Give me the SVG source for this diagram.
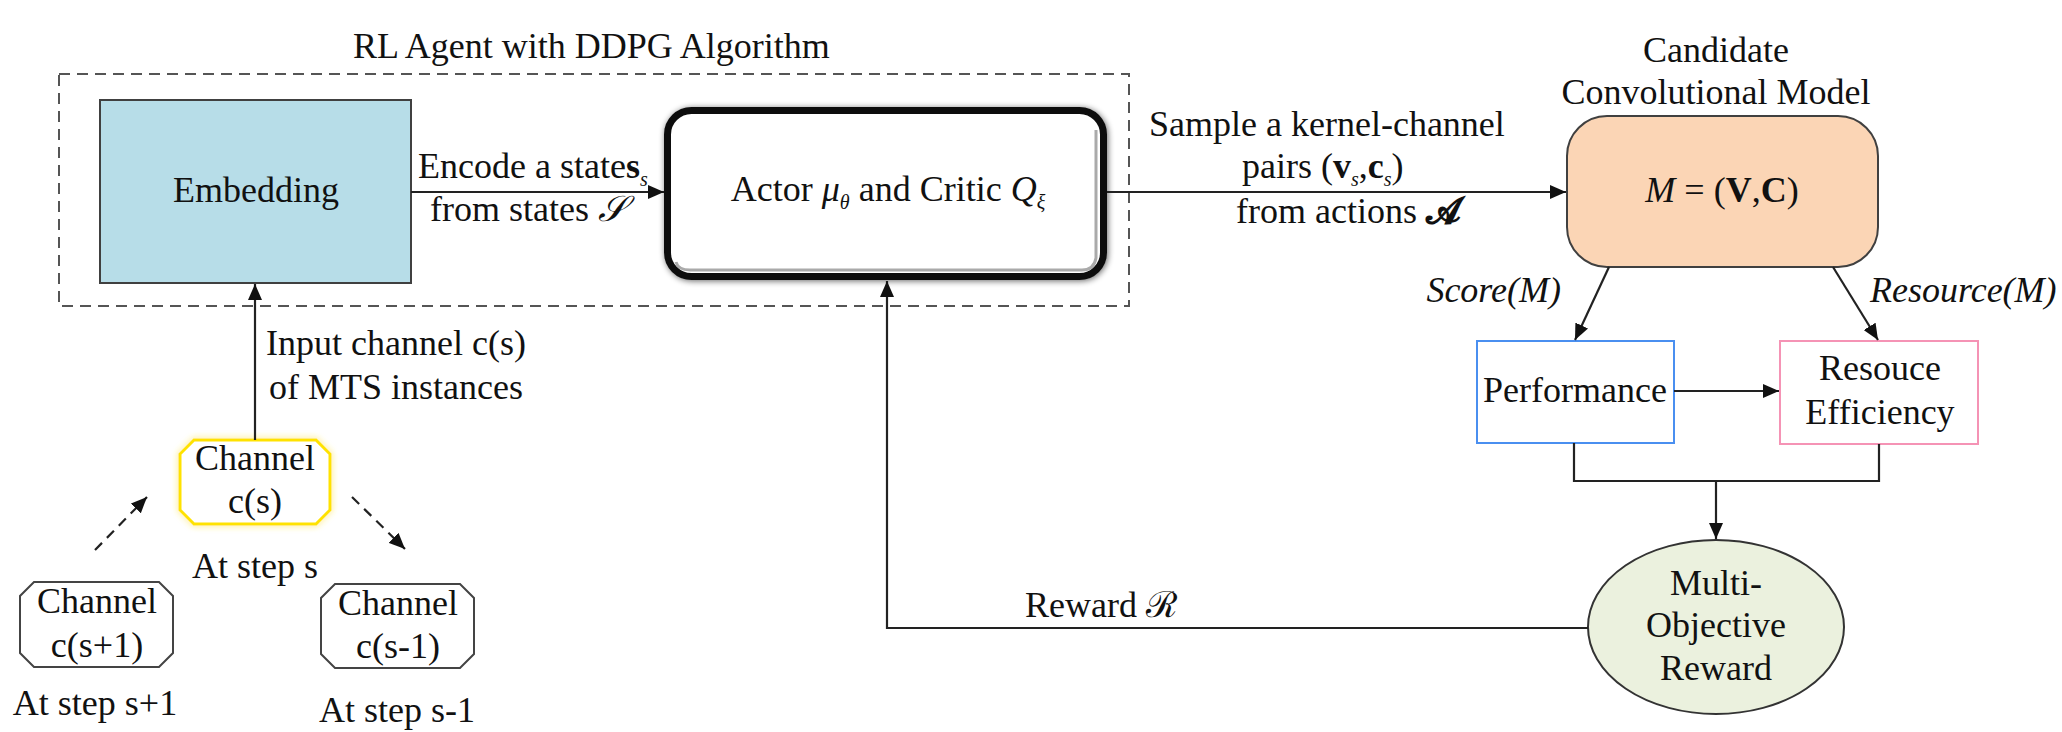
<svg xmlns="http://www.w3.org/2000/svg" width="2062" height="732" viewBox="0 0 2062 732">
<style>
text{font-family:"Liberation Serif","Times New Roman",serif;font-size:36px;fill:#111}
.it{font-style:italic}
.b{font-weight:bold}
.sub{font-size:20px;font-style:italic}
.ln{fill:none;stroke:#222;stroke-width:2.2}
.c{text-anchor:middle}
</style>
<defs>
<marker id="ah" markerUnits="userSpaceOnUse" markerWidth="18" markerHeight="14" refX="16" refY="7" orient="auto">
<path d="M0,0 L16,7 L0,14 Z" fill="#111"/>
</marker>
<filter id="sh" x="-10%" y="-20%" width="120%" height="140%">
<feGaussianBlur in="SourceAlpha" stdDeviation="3"/>
<feOffset dx="1" dy="1" result="b"/>
<feComponentTransfer><feFuncA type="linear" slope="0.6"/></feComponentTransfer>
<feMerge><feMergeNode/><feMergeNode in="SourceGraphic"/></feMerge>
</filter>
<filter id="glow" x="-20%" y="-20%" width="140%" height="140%">
<feGaussianBlur in="SourceGraphic" stdDeviation="3" result="g"/>
<feMerge><feMergeNode in="g"/><feMergeNode in="SourceGraphic"/></feMerge>
</filter>
</defs>
<rect width="2062" height="732" fill="#fff"/>

<g id="agent-frame">
<rect x="59" y="74" width="1070" height="232" fill="none" stroke="#555" stroke-width="2" stroke-dasharray="11,7"/>
<text x="353" y="58">RL Agent with DDPG Algorithm</text>
</g>

<g id="embedding">
<rect x="100" y="100" width="311" height="183" fill="#b7dde8" stroke="#404040" stroke-width="2"/>
<text class="c" x="256" y="202">Embedding</text>
</g>

<g id="actor-critic">
<rect x="667.5" y="110.5" width="436" height="166" rx="24" fill="#fff" stroke="#111" stroke-width="7" filter="url(#sh)"/>
<path d="M676,262 Q678,270 690,270 L1082,270 Q1094,270 1096,258 L1096,130" fill="none" stroke="#aaa" stroke-width="3"/>
<text class="c" x="888" y="201">Actor <tspan class="it">μ</tspan><tspan class="sub" dy="8">θ</tspan><tspan dy="-8"> and Critic </tspan><tspan class="it">Q</tspan><tspan class="sub" dy="8">ξ</tspan></text>
</g>

<g id="candidate">
<text class="c" x="1716" y="62">Candidate</text>
<text class="c" x="1716" y="104">Convolutional Model</text>
<rect x="1567" y="116" width="311" height="151" rx="40" fill="#fbd5b5" stroke="#404040" stroke-width="2"/>
<text class="c" x="1722" y="202"><tspan class="it">M</tspan> = (<tspan class="b">V</tspan>,<tspan class="b">C</tspan>)</text>
</g>

<g id="performance">
<rect x="1477" y="341" width="197" height="102" fill="#fff" stroke="#4a8ff0" stroke-width="2"/>
<text class="c" x="1575" y="402">Performance</text>
</g>

<g id="resource-efficiency">
<rect x="1780" y="341" width="198" height="103" fill="#fff" stroke="#f593b5" stroke-width="2"/>
<text class="c" x="1880" y="380">Resouce</text>
<text class="c" x="1880" y="424">Efficiency</text>
</g>

<g id="reward">
<ellipse cx="1716" cy="627" rx="128" ry="87" fill="#ebf1de" stroke="#333" stroke-width="2"/>
<text class="c" x="1716" y="595">Multi-</text>
<text class="c" x="1716" y="637">Objective</text>
<text class="c" x="1716" y="680">Reward</text>
</g>

<g id="channel-s">
<path d="M194,440 L316,440 L330,454 L330,510 L316,524 L194,524 L180,510 L180,454 Z" fill="#fff" stroke="#ffe200" stroke-width="3" filter="url(#glow)"/>
<text class="c" x="255" y="470">Channel</text>
<text class="c" x="255" y="513">c(s)</text>
<text class="c" x="255" y="578">At step s</text>
</g>

<g id="channel-s-plus-1">
<path d="M34,582 L159,582 L173,596 L173,653 L159,667 L34,667 L20,653 L20,596 Z" fill="#fff" stroke="#444" stroke-width="2"/>
<text class="c" x="97" y="613">Channel</text>
<text class="c" x="97" y="657">c(s+1)</text>
<text class="c" x="95" y="715">At step s+1</text>
</g>

<g id="channel-s-minus-1">
<path d="M335,584 L460,584 L474,598 L474,654 L460,668 L335,668 L321,654 L321,598 Z" fill="#fff" stroke="#444" stroke-width="2"/>
<text class="c" x="398" y="615">Channel</text>
<text class="c" x="398" y="658">c(s-1)</text>
<text class="c" x="397" y="722">At step s-1</text>
</g>

<g id="connectors">
<line class="ln" x1="411" y1="192" x2="664" y2="192" marker-end="url(#ah)"/>
<line class="ln" x1="1107" y1="192" x2="1566" y2="192" marker-end="url(#ah)"/>
<line class="ln" x1="255" y1="440" x2="255" y2="284" marker-end="url(#ah)"/>
<polyline class="ln" points="1588,628 887,628 887,281" marker-end="url(#ah)"/>
<line class="ln" x1="1609" y1="267" x2="1575" y2="340" marker-end="url(#ah)"/>
<line class="ln" x1="1833" y1="267" x2="1878" y2="340" marker-end="url(#ah)"/>
<line class="ln" x1="1674" y1="391" x2="1779" y2="391" marker-end="url(#ah)"/>
<polyline class="ln" points="1574,443 1574,481 1879,481 1879,444"/>
<line class="ln" x1="1716" y1="481" x2="1716" y2="539" marker-end="url(#ah)"/>
<line class="ln" x1="95" y1="550" x2="147" y2="497" stroke-dasharray="10,7" marker-end="url(#ah)"/>
<line class="ln" x1="352" y1="497" x2="405" y2="549" stroke-dasharray="10,7" marker-end="url(#ah)"/>
<text x="418" y="178">Encode a state<tspan class="b">s</tspan><tspan class="sub" dy="8">s</tspan></text>
<text x="430" y="221">from states <tspan class="it">𝒮</tspan></text>
<text x="1149" y="136">Sample a kernel-channel</text>
<text x="1242" y="178">pairs (<tspan class="b">v</tspan><tspan class="sub" dy="8">s</tspan><tspan dy="-8">,</tspan><tspan class="b">c</tspan><tspan class="sub" dy="8">s</tspan><tspan dy="-8">)</tspan></text>
<text x="1236" y="223">from actions <tspan class="b">𝓐</tspan></text>
<text class="it" x="1561" y="302" text-anchor="end">Score(M)</text>
<text class="it" x="1870" y="302">Resource(M)</text>
<text x="266" y="355">Input channel c(s)</text>
<text x="269" y="399">of MTS instances</text>
<text x="1025" y="617">Reward ℛ</text>
</g>
</svg>
